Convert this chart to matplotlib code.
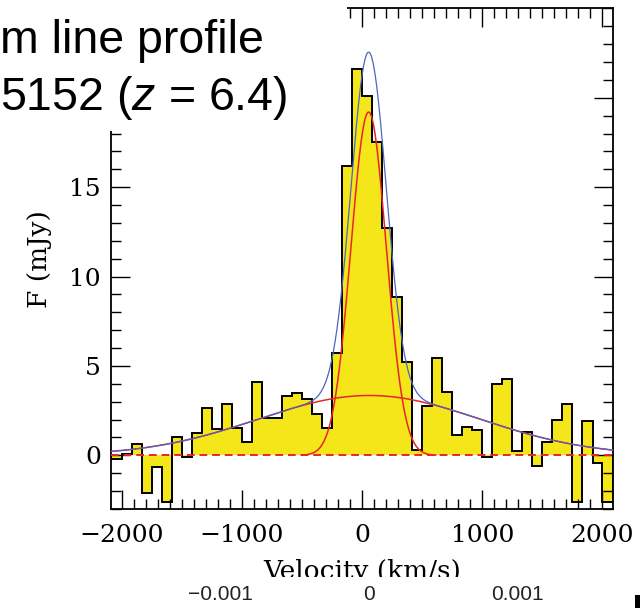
import numpy as np
import matplotlib.pyplot as plt
from matplotlib.ticker import MultipleLocator
from matplotlib.patches import Rectangle

plt.rcParams['mathtext.fontset'] = 'custom'
plt.rcParams['mathtext.rm'] = 'Liberation Sans'
plt.rcParams['mathtext.it'] = 'Liberation Sans:italic'

# velocity bin edges (km/s)
edges = [-2090, -2000, -1917, -1833, -1750, -1667, -1583, -1500, -1417, -1333,
         -1250, -1167, -1083, -1000, -917, -833, -750, -667, -583, -500,
         -417, -333, -250, -167, -83, 0, 83, 167, 250, 333,
         417, 500, 583, 667, 750, 833, 917, 1000, 1083, 1167,
         1250, 1333, 1417, 1500, 1583, 1667, 1750, 1833, 1917, 2000, 2090]
# flux per bin (mJy)
flux = [-0.2, 0.1, 0.65, -2.1, -0.67, -2.6, 1.0, -0.07, 1.27, 2.64,
        1.45, 2.89, 1.55, 0.77, 4.1, 2.08, 2.08, 3.32, 3.47, 3.16,
        2.32, 1.52, 5.71, 16.2, 21.6, 20.1, 17.5, 12.7, 8.85, 5.2,
        0.31, 2.77, 5.43, 3.55, 1.12, 1.61, 1.42, -0.1, 4.0, 4.25,
        0.27, 1.3, -0.6, 0.76, 1.98, 2.86, -2.6, 1.9, -0.42, -2.6]

# gaussian fit components: amplitude (mJy), centre (km/s), sigma (km/s)
narrow = (19.2, 55, 147)
broad = (3.35, 60, 920)

xticks = [-2000, -1000, 0, 1000, 2000]
xticklabels = ['\u22122000', '\u22121000', '0', '1000', '2000']
yticks = [0, 5, 10, 15, 20]
yticklabels = ['0', '5', '10', '15', '']   # "20" sits under the slide title box

# second scale printed under the plot on the slide
sub_labels = ['\u22120.001', '0', '0.001']


def gauss(v, p):
    a, c, s = p
    return a * np.exp(-(v - c) ** 2 / (2 * s ** 2))


fig = plt.figure(figsize=(6.4, 6.08), dpi=100)
ax = fig.add_axes([0.173, 0.1628, 0.7853, 0.8235])

yellow = '#f5e61a'
red = '#e8252d'
ax.stairs(flux, edges, baseline=0, fill=True, color=yellow, zorder=1)
ax.stairs(flux, edges, baseline=0, color='black', linewidth=1.4, zorder=2)

v = np.linspace(-2090, 2090, 800)
vn = np.linspace(narrow[1] - 3.8 * narrow[2], narrow[1] + 3.8 * narrow[2], 300)
ax.axhline(0, color=red, linestyle=(0, (4, 2.5)), linewidth=1.4, zorder=3)
ax.plot(v, gauss(v, broad), color=red, linewidth=1.1, zorder=4)
ax.plot(vn, gauss(vn, narrow), color=red, linewidth=1.1, zorder=4)
ax.plot(v, gauss(v, narrow) + gauss(v, broad), color='#4a66c0', linewidth=0.9, zorder=5)

ax.set_xlim(-2090, 2090)
ax.set_ylim(-3, 25)
ax.set_xticks(xticks)
ax.set_xticklabels(xticklabels)
ax.set_yticks(yticks)
ax.set_yticklabels(yticklabels)
ax.xaxis.set_minor_locator(MultipleLocator(100))
ax.yaxis.set_minor_locator(MultipleLocator(1))
ax.tick_params(which='both', direction='in', top=True, right=True, width=1.0, color='black')
ax.tick_params(which='major', length=14)
ax.tick_params(which='minor', length=7)
ax.tick_params(axis='x', pad=11)
ax.tick_params(axis='y', pad=7)
for lab in ax.get_xticklabels() + ax.get_yticklabels():
    lab.set_fontfamily('DejaVu Serif')
    lab.set_fontsize(18)
for sp in ax.spines.values():
    sp.set_linewidth(1.3)

ax.set_xlabel('Velocity (km/s)', family='DejaVu Serif', fontsize=19)
ax.set_ylabel('F (mJy)', family='DejaVu Serif', fontsize=19)
ax.xaxis.set_label_coords(0.5, -0.100)
ax.yaxis.set_label_coords(-0.117, 0.5)

# slide overlays
fig.add_artist(Rectangle((0, 1 - 131 / 608), 347 / 640, 131 / 608,
                         transform=fig.transFigure, facecolor='white', edgecolor='none', zorder=10))
fig.add_artist(Rectangle((0, 0), 1, 31 / 608,
                         transform=fig.transFigure, facecolor='white', edgecolor='none', zorder=10))
fig.text(0, 1 - 53 / 608, 'm line profile', family='Liberation Sans', fontsize=33.5,
         va='baseline', ha='left', zorder=11)
fig.text(0, 1 - 110 / 608, '5152 ($z$ = 6.4)', family='Liberation Sans', fontsize=33.5,
         va='baseline', ha='left', zorder=11)
for lab, xc in zip(sub_labels, [220, 369, 517]):
    fig.text(xc / 640, 13 / 608, lab, family='Liberation Sans', fontsize=15,
             color='#222222', ha='center', va='center', zorder=11)
fig.add_artist(Rectangle((635 / 640, 0), 5 / 640, 13 / 608,
                         transform=fig.transFigure, facecolor='black', edgecolor='none', zorder=11))

fig.savefig('out.png', dpi=100)
